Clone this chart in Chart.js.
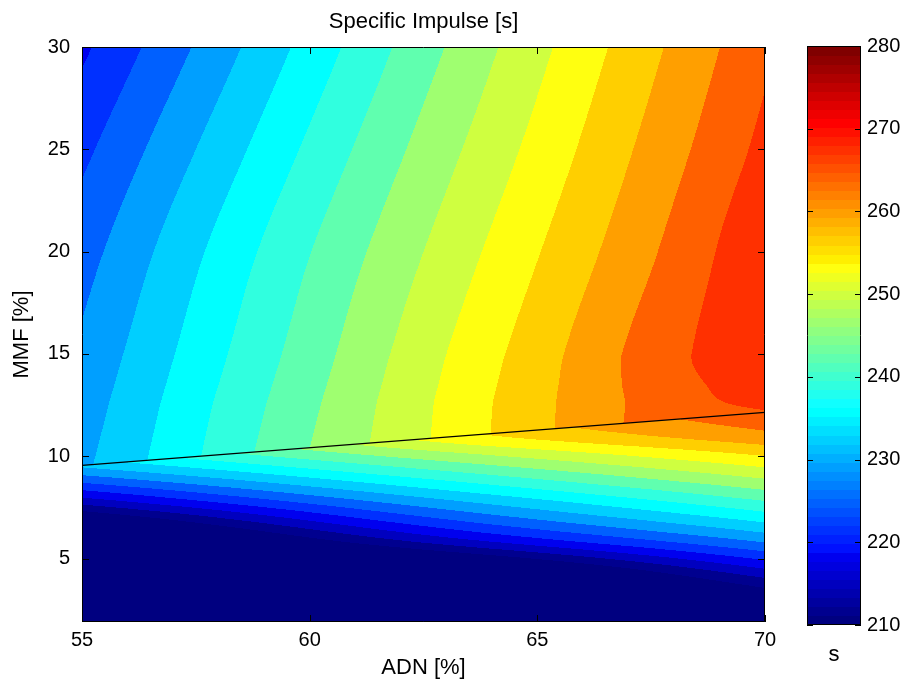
<!DOCTYPE html>
<html lang="en">
<head>
  <meta charset="UTF-8" />
  <title>Specific Impulse</title>
  <script src="https://cdn.jsdelivr.net/npm/chart.js"></script>
  <style>
    html, body { margin: 0; background: #fff; }
    #wrap { position: relative; width: 909px; height: 693px; }
    #main { position: absolute; left: 0; top: 0; }
    #cbar { position: absolute; left: 790px; top: 0; }
  </style>
</head>
<body>
  <div id="wrap">
    <canvas id="main" width="790" height="693"></canvas>
    <canvas id="cbar" width="119" height="693"></canvas>
  </div>

  <script>
    // axis ticks
    const adnTicks = [55, 60, 65, 70];
    const mmfTicks = [5, 10, 15, 20, 25, 30];
    const ispTicks = [210, 220, 230, 240, 250, 260, 270, 280];

    // black boundary line (ADN %, MMF %)
    const lineADN = [55, 70];
    const lineMMF = [9.55, 12.14];

    // Isp [s], above the line
    const upperADN = [55, 57.5, 60, 62.5, 65, 67.5, 70];
    const upperMMF = [9.5, 12.5, 13.5, 15, 20, 25, 30];
    const upperIsp = [
      [230.8, 238.3, 245.8, 252.2, 258.6, 263.6, 256.0],
      [229.7, 237.4, 244.8, 251.9, 258.5, 264.1, 267.3],
      [229.3, 237.0, 244.4, 251.6, 258.3, 264.4, 268.5],
      [228.7, 236.4, 243.8, 251.1, 257.9, 264.6, 269.6],
      [226.5, 234.4, 241.9, 249.0, 255.8, 262.6, 269.5],
      [223.6, 231.5, 239.2, 246.6, 253.6, 260.6, 267.5],
      [220.3, 228.3, 236.3, 244.1, 251.5, 258.7, 265.8]
    ];

    // Isp [s] below the line
    const lowerADN = [55, 62.5, 70];
    const lowerMMF = [2, 4, 6, 8, 10, 11, 12.5];
    const lowerIsp = [
      [183.0, 190.0, 200.0],
      [190.0, 196.4, 213.6],
      [197.5, 216.1, 229.6],
      [217.7, 231.6, 243.2],
      [236.0, 246.7, 255.9],
      [241.0, 254.0, 262.0],
      [248.0, 259.0, 267.0]
    ];

    // contour levels and colour limits
    const levelStart = 210.5;
    const levelStep = 3.5;
    const cMin = 210, cMax = 280;

    // matlab jet(64), index 1..64
    function jet(i) {
      const u = k => (k < 1 || k > 47) ? 0 : (k <= 16 ? k / 16 : (k <= 31 ? 1 : (48 - k) / 16));
      return [u(i - 24), u(i - 8), u(i + 7)].map(c => Math.round(c * 255));
    }
    function colorIndex(v) {
      const i = Math.floor((v - cMin) / (cMax - cMin) * 64) + 1;
      return Math.max(1, Math.min(64, i));
    }
    const bandCache = {};
    function bandColor(v) {
      const k = Math.floor((v - levelStart) / levelStep);
      if (!bandCache[k]) bandCache[k] = jet(colorIndex(levelStart + k * levelStep + 0.6));
      return bandCache[k];
    }

    function seg(arr, v) {
      let i = 0;
      while (i < arr.length - 2 && v > arr[i + 1]) i++;
      return i;
    }
    // cubic hermite through the read values, linear outside the range
    function hermite(xs, vs, x) {
      const n = xs.length;
      const slope = k => k === 0 ? (vs[1] - vs[0]) / (xs[1] - xs[0])
        : k === n - 1 ? (vs[n - 1] - vs[n - 2]) / (xs[n - 1] - xs[n - 2])
        : (vs[k + 1] - vs[k - 1]) / (xs[k + 1] - xs[k - 1]);
      if (x <= xs[0]) return vs[0] + slope(0) * (x - xs[0]);
      if (x >= xs[n - 1]) return vs[n - 1] + slope(n - 1) * (x - xs[n - 1]);
      const i = seg(xs, x);
      const h = xs[i + 1] - xs[i];
      const t = (x - xs[i]) / h, t2 = t * t, t3 = t2 * t;
      return (2 * t3 - 3 * t2 + 1) * vs[i] + (t3 - 2 * t2 + t) * h * slope(i)
        + (-2 * t3 + 3 * t2) * vs[i + 1] + (t3 - t2) * h * slope(i + 1);
    }
    function lineAt(x) {
      const t = (x - lineADN[0]) / (lineADN[1] - lineADN[0]);
      return lineMMF[0] + t * (lineMMF[1] - lineMMF[0]);
    }

    const fieldPlugin = {
      id: "field",
      beforeDatasetsDraw(chart) {
        const { ctx, chartArea: a, scales: { x, y } } = chart;
        const w = Math.round(a.right - a.left), h = Math.round(a.bottom - a.top);
        const img = ctx.createImageData(w, h);
        for (let i = 0; i < w; i++) {
          const ax = x.getValueForPixel(a.left + i + 0.5);
          const yb = lineAt(ax);
          const up = upperIsp.map(row => hermite(upperADN, row, ax));
          const lo = lowerIsp.map(row => hermite(lowerADN, row, ax));
          for (let j = 0; j < h; j++) {
            const my = y.getValueForPixel(a.top + j + 0.5);
            const v = my >= yb ? hermite(upperMMF, up, my) : hermite(lowerMMF, lo, my);
            const c = bandColor(v);
            const k = (j * w + i) * 4;
            img.data[k] = c[0];
            img.data[k + 1] = c[1];
            img.data[k + 2] = c[2];
            img.data[k + 3] = 255;
          }
        }
        ctx.putImageData(img, Math.round(a.left), Math.round(a.top));
      }
    };

    function drawFrame(chart, xs, ys, len) {
      const { ctx, chartArea: a } = chart;
      ctx.save();
      ctx.strokeStyle = "#000";
      ctx.lineWidth = 1;
      ctx.beginPath();
      ctx.rect(a.left + 0.5, a.top + 0.5, a.right - a.left - 1, a.bottom - a.top - 1);
      if (xs) xs.ticks.forEach(t => {
        const p = Math.round(xs.getPixelForValue(t.value)) + 0.5;
        ctx.moveTo(p, a.bottom); ctx.lineTo(p, a.bottom - len);
        ctx.moveTo(p, a.top); ctx.lineTo(p, a.top + len);
      });
      ys.ticks.forEach(t => {
        const p = Math.round(ys.getPixelForValue(t.value)) + 0.5;
        ctx.moveTo(a.left, p); ctx.lineTo(a.left + len, p);
        ctx.moveTo(a.right, p); ctx.lineTo(a.right - len, p);
      });
      ctx.stroke();
      ctx.restore();
    }

    Chart.defaults.font.family = '"Liberation Sans", Arial, sans-serif';
    Chart.defaults.font.size = 20;
    Chart.defaults.color = "#000";

    const noGrid = { display: false, drawTicks: false };

    new Chart(document.getElementById("main"), {
      type: "scatter",
      data: {
        datasets: [{
          data: lineADN.map((x, i) => ({ x, y: lineMMF[i] })),
          showLine: true,
          borderColor: "#000",
          borderWidth: 1.3,
          pointRadius: 0
        }]
      },
      options: {
        responsive: false,
        animation: false,
        events: [],
        layout: { padding: { left: 0, right: 25, top: 0, bottom: 0 } },
        scales: {
          x: {
            type: "linear", position: "bottom", min: 55, max: 70,
            grid: noGrid, border: { display: false },
            afterBuildTicks: s => { s.ticks = adnTicks.map(v => ({ value: v })); },
            afterFit: s => { s.height = 71; },
            ticks: { padding: 6 },
            title: { display: true, text: "ADN [%]", font: { size: 22 }, padding: { bottom: 12 } }
          },
          top: {
            type: "linear", position: "top", min: 55, max: 70,
            grid: noGrid, border: { display: false },
            ticks: { display: false },
            afterFit: s => { s.height = 47; },
            title: { display: true, text: "Specific Impulse [s]", font: { size: 22 }, padding: { top: 9 } }
          },
          y: {
            type: "linear", position: "left", min: 1.9, max: 30,
            grid: noGrid, border: { display: false },
            afterBuildTicks: s => { s.ticks = mmfTicks.map(v => ({ value: v })); },
            afterFit: s => { s.width = 82; },
            ticks: { padding: 12 },
            title: { display: true, text: "MMF [%]", font: { size: 22 }, padding: { top: 9 } }
          }
        },
        plugins: { legend: { display: false }, tooltip: { enabled: false } }
      },
      plugins: [fieldPlugin, {
        id: "frame",
        afterDraw(chart) { drawFrame(chart, chart.scales.x, chart.scales.y, 7); }
      }]
    });

    const colorbarPlugin = {
      id: "colorbar",
      beforeDatasetsDraw(chart) {
        const { ctx, chartArea: a, scales: { y } } = chart;
        const step = (cMax - cMin) / 64;
        for (let i = 1; i <= 64; i++) {
          const y0 = y.getPixelForValue(cMin + i * step);
          const y1 = y.getPixelForValue(cMin + (i - 1) * step);
          const c = jet(i);
          ctx.fillStyle = `rgb(${c[0]},${c[1]},${c[2]})`;
          ctx.fillRect(a.left, Math.floor(y0), a.right - a.left, Math.ceil(y1) - Math.floor(y0));
        }
      },
      afterDraw(chart) { drawFrame(chart, null, chart.scales.y, 6); }
    };

    new Chart(document.getElementById("cbar"), {
      type: "scatter",
      data: { datasets: [] },
      options: {
        responsive: false,
        animation: false,
        events: [],
        layout: { padding: { left: 17, right: 0, top: 46, bottom: 0 } },
        scales: {
          x: {
            type: "linear", position: "bottom", min: 0, max: 1,
            grid: noGrid, border: { display: false },
            ticks: { display: false },
            afterFit: s => { s.height = 68; },
            title: { display: true, text: "s", font: { size: 22 }, padding: { bottom: 25 } }
          },
          y: {
            type: "linear", position: "right", min: cMin, max: cMax,
            grid: noGrid, border: { display: false },
            afterBuildTicks: s => { s.ticks = ispTicks.map(v => ({ value: v })); },
            afterFit: s => { s.width = 48; },
            ticks: { padding: 6 }
          }
        },
        plugins: { legend: { display: false }, tooltip: { enabled: false } }
      },
      plugins: [colorbarPlugin]
    });
  </script>
</body>
</html>
